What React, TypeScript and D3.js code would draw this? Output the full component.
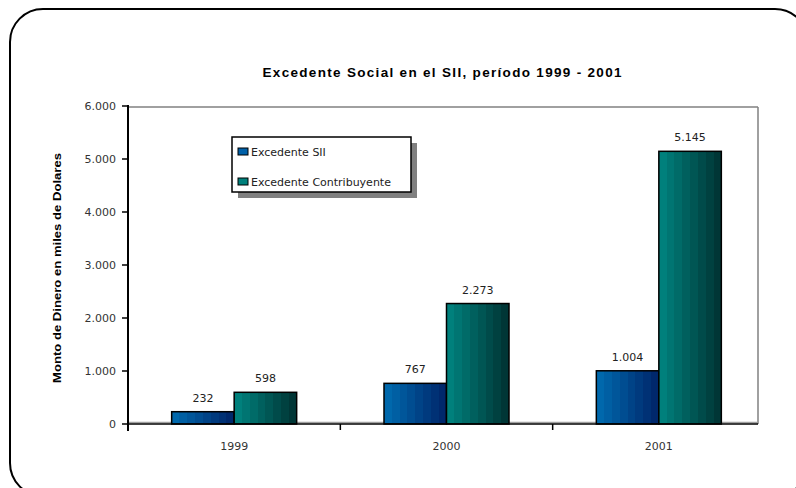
import React from "react";
import * as d3 from "d3";

const categories = ["1999", "2000", "2001"];
const seriesNames = ["Excedente SII", "Excedente Contribuyente"];
const excedenteSII = [232, 767, 1004];
const excedenteContribuyente = [598, 2273, 5145];
const yTicks = [0, 1000, 2000, 3000, 4000, 5000, 6000];

const W = 796;
const H = 488;

const fmt = (v: number) => d3.format(",")(v).replace(/,/g, ".");

const stripes = (id: string, from: string, to: string, n: number) => {
  const c = d3.interpolateRgb(from, to);
  const stops: React.ReactNode[] = [];
  for (let i = 0; i < n; i++) {
    const col = c(i / (n - 1));
    stops.push(<stop key={i + "a"} offset={`${(i / n) * 100}%`} stopColor={col} />);
    stops.push(<stop key={i + "b"} offset={`${((i + 1) / n) * 100}%`} stopColor={col} />);
  }
  return (
    <linearGradient id={id} x1="0" x2="1" y1="0" y2="0">
      {stops}
    </linearGradient>
  );
};

export default function App() {
  const left = 128;
  const plotRight = 758;
  const top = 106;
  const bottom = 424;

  const x0 = d3.scaleBand<string>().domain(categories).range([left, 765]).paddingInner(0).paddingOuter(0);
  const groupW = 125;
  const x1 = d3.scaleBand<string>().domain(seriesNames).range([0, groupW]).padding(0);
  const y = d3.scaleLinear().domain([0, 6000]).range([bottom, top]);

  const data = [excedenteSII, excedenteContribuyente];
  const fills = ["url(#gBlue)", "url(#gTeal)"];
  const font = "'DejaVu Sans', Verdana, sans-serif";

  return (
    <svg width={W} height={H} style={{ position: "absolute", left: 0, top: 0, background: "#fff" }}>
      <defs>
        {stripes("gBlue", "#0068ac", "#00286c", 8)}
        {stripes("gTeal", "#00807c", "#003636", 8)}
      </defs>
      <rect x={0} y={0} width={W} height={H} fill="#fff" />
      <rect x={10} y={9} width={798} height={487} rx={33} ry={33} fill="none" stroke="#000" strokeWidth={2} />

      <text
        x={442}
        y={77}
        textAnchor="middle"
        fontFamily="'Liberation Sans', Arial, sans-serif"
        fontWeight="bold"
        fontSize={13.5}
        textLength={359}
        lengthAdjust="spacing"
        fill="#000"
      >
        Excedente Social en el SII,  período 1999 - 2001
      </text>

      {/* plot area border */}
      <line x1={left} x2={plotRight} y1={top + 1} y2={top + 1} stroke="#808080" strokeWidth={1.5} />
      <line x1={plotRight} x2={plotRight} y1={top + 1} y2={bottom} stroke="#808080" strokeWidth={1.5} />
      <line x1={left} x2={plotRight} y1={bottom - 1.5} y2={bottom - 1.5} stroke="#a0a0a0" strokeWidth={1.5} />

      {/* bars */}
      {categories.map((cat, ci) => (
        <g key={cat} transform={`translate(${(x0(cat) as number) + (x0.bandwidth() - groupW) / 2},0)`}>
          {seriesNames.map((s, si) => {
            const v = data[si][ci];
            const bx = x1(s) as number;
            const bw = x1.bandwidth();
            return (
              <g key={s}>
                <rect
                  x={bx}
                  y={y(v)}
                  width={bw}
                  height={bottom - y(v)}
                  fill={fills[si]}
                  stroke="#000"
                  strokeWidth={1.5}
                />
                <text
                  x={bx + bw / 2}
                  y={y(v) - 10}
                  textAnchor="middle"
                  fontFamily={font}
                  fontSize={11}
                  fill="#222"
                >
                  {fmt(v)}
                </text>
              </g>
            );
          })}
        </g>
      ))}

      {/* y axis */}
      <line x1={left} x2={left} y1={top - 1} y2={bottom + 7} stroke="#000" strokeWidth={2} />
      {yTicks.map((t) => (
        <g key={t}>
          <line x1={left - 6} x2={left} y1={y(t)} y2={y(t)} stroke="#000" strokeWidth={1.5} />
          <text x={left - 12} y={y(t) + 4} textAnchor="end" fontFamily={font} fontSize={11} fill="#333">
            {fmt(t)}
          </text>
        </g>
      ))}

      {/* x axis */}
      <line x1={left} x2={plotRight} y1={bottom} y2={bottom} stroke="#000" strokeWidth={1.5} />
      {categories.slice(1).map((cat) => (
        <line key={cat} x1={x0(cat) as number} x2={x0(cat) as number} y1={bottom} y2={bottom + 6} stroke="#000" strokeWidth={1.5} />
      ))}
      {categories.map((cat) => (
        <text
          key={cat}
          x={(x0(cat) as number) + x0.bandwidth() / 2}
          y={450}
          textAnchor="middle"
          fontFamily={font}
          fontSize={11}
          fill="#333"
        >
          {cat}
        </text>
      ))}

      {/* y label */}
      <text
        transform={`translate(61,268) rotate(-90)`}
        textAnchor="middle"
        fontFamily="'Liberation Sans', Arial, sans-serif"
        fontWeight="bold"
        fontSize={11}
        textLength={230}
        lengthAdjust="spacingAndGlyphs"
        fill="#000"
      >
        Monto de Dinero en miles de Dolares
      </text>

      {/* legend */}
      <rect x={238} y={143} width={179} height={55} fill="#808080" />
      <rect x={232} y={137} width={179} height={55} fill="#fff" stroke="#000" strokeWidth={1.5} />
      {seriesNames.map((s, i) => (
        <g key={s} transform={`translate(238,${148 + i * 30})`}>
          <rect x={0} y={0} width={10} height={7} fill={i === 0 ? "#0060a8" : "#00807c"} stroke="#000" strokeWidth={1} />
          <text x={13} y={8} fontFamily={font} fontSize={11} fill="#222">
            {s}
          </text>
        </g>
      ))}
    </svg>
  );
}
